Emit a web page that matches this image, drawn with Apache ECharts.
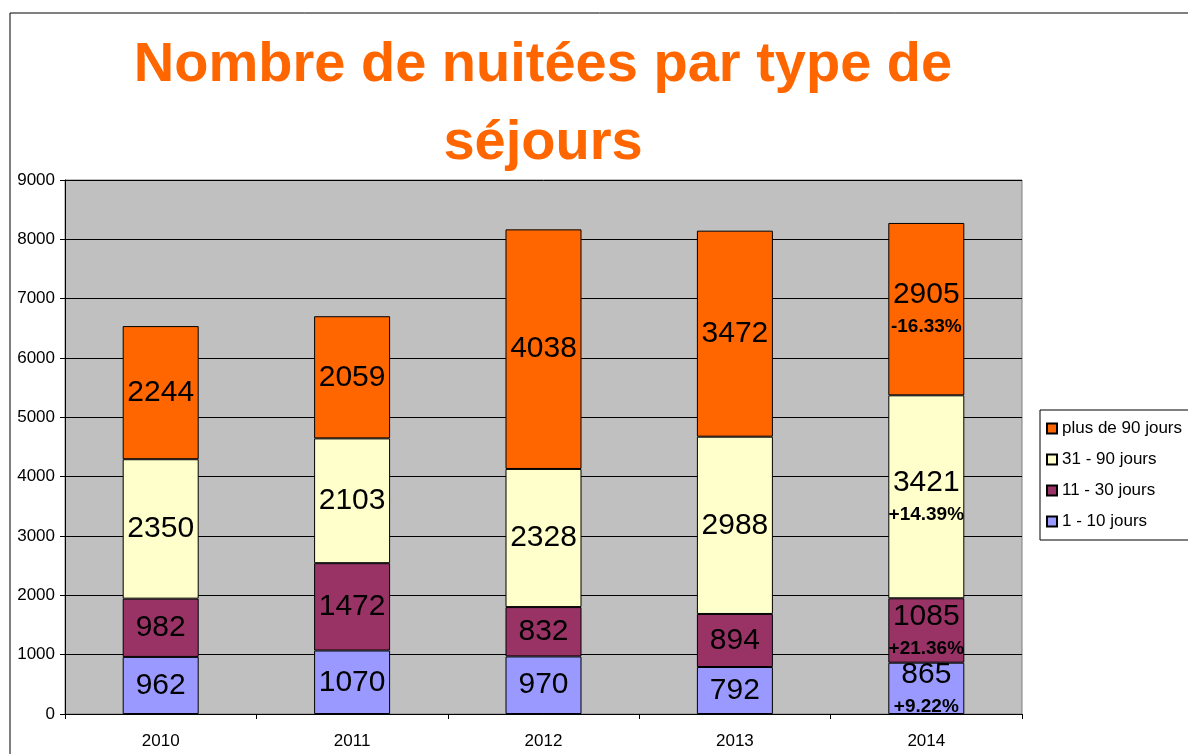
<!DOCTYPE html>
<html>
<head>
<meta charset="utf-8">
<script src="https://cdn.jsdelivr.net/npm/echarts@6/dist/echarts.min.js"></script>
<style>
  html, body { margin: 0; padding: 0; background: #fff; }
  #chart { width: 1188px; height: 754px; }
</style>
</head>
<body>
<div id="chart"></div>
<script>
// données
const years = ['2010', '2011', '2012', '2013', '2014'];
const names = ['1 - 10 jours', '11 - 30 jours', '31 - 90 jours', 'plus de 90 jours'];
const s1_10 = [962, 1070, 970, 792, 865];
const s11_30 = [982, 1472, 832, 894, 1085];
const s31_90 = [2350, 2103, 2328, 2988, 3421];
const s90plus = [2244, 2059, 4038, 3472, 2905];
// évolution 2014 / 2013
const pct1_10 = ['', '', '', '', '+9.22%'];
const pct11_30 = ['', '', '', '', '+21.36%'];
const pct31_90 = ['', '', '', '', '+14.39%'];
const pct90plus = ['', '', '', '', '-16.33%'];

const colors = ['#9999FF', '#993366', '#FFFFCC', '#FF6600'];
const allData = [s1_10, s11_30, s31_90, s90plus];
const allPct = [pct1_10, pct11_30, pct31_90, pct90plus];

const FONT = 'Liberation Sans, Arial, sans-serif';

const chart = echarts.init(document.getElementById('chart'));

const series = names.map((name, i) => ({
  name: name,
  type: 'bar',
  stack: 'total',
  barWidth: 76,
  data: allData[i],
  itemStyle: { color: colors[i], borderColor: '#000', borderWidth: 1 },
  label: {
    show: true,
    position: 'inside',
    color: '#000',
    fontFamily: FONT,
    fontSize: 30,
    lineHeight: 36,
    formatter: p => {
      const pc = allPct[i][p.dataIndex];
      return pc ? p.value + '\n{b|' + pc + '}' : String(p.value);
    },
    rich: {
      b: { fontSize: 19, fontWeight: 'bold', fontFamily: FONT, color: '#000', lineHeight: 28 }
    }
  }
}));

chart.setOption({
  animation: false,
  backgroundColor: '#fff',
  title: {
    text: 'Nombre de nuitées par type de\nséjours',
    left: 538,
    top: 22,
    textAlign: 'center',
    textStyle: {
      color: '#FF6600',
      fontFamily: FONT,
      fontWeight: 'bold',
      fontSize: 56,
      lineHeight: 78
    }
  },
  graphic: [{
    type: 'rect',
    shape: { x: 10, y: 13, width: 1300, height: 900 },
    style: { fill: 'none', stroke: '#000', lineWidth: 1 },
    z: -1
  }],
  legend: {
    orient: 'vertical',
    left: 1040,
    top: 410,
    data: names.slice().reverse(),
    itemWidth: 10,
    itemHeight: 10,
    itemGap: 14,
    icon: 'rect',
    padding: [10, 40, 10, 6],
    borderColor: '#000',
    borderWidth: 1,
    textStyle: { fontFamily: FONT, fontSize: 17, color: '#000' }
  },
  grid: {
    left: 65,
    right: 166,
    top: 180,
    bottom: 40,
    show: true,
    backgroundColor: '#C0C0C0',
    borderColor: '#808080',
    borderWidth: 1
  },
  xAxis: {
    type: 'category',
    data: years,
    axisLine: { lineStyle: { color: '#000', width: 1 } },
    axisTick: { show: true, length: 5, lineStyle: { color: '#000' } },
    axisLabel: { margin: 19, fontFamily: FONT, fontSize: 17, color: '#000' }
  },
  yAxis: {
    type: 'value',
    min: 0,
    max: 9000,
    interval: 1000,
    axisLine: { show: true, lineStyle: { color: '#000', width: 1 } },
    axisTick: { show: true, length: 5, lineStyle: { color: '#000' } },
    axisLabel: { margin: 10, fontFamily: FONT, fontSize: 17, color: '#000', formatter: v => String(v) },
    splitLine: { lineStyle: { color: '#000', width: 1 } }
  },
  series: series
});
</script>
</body>
</html>
